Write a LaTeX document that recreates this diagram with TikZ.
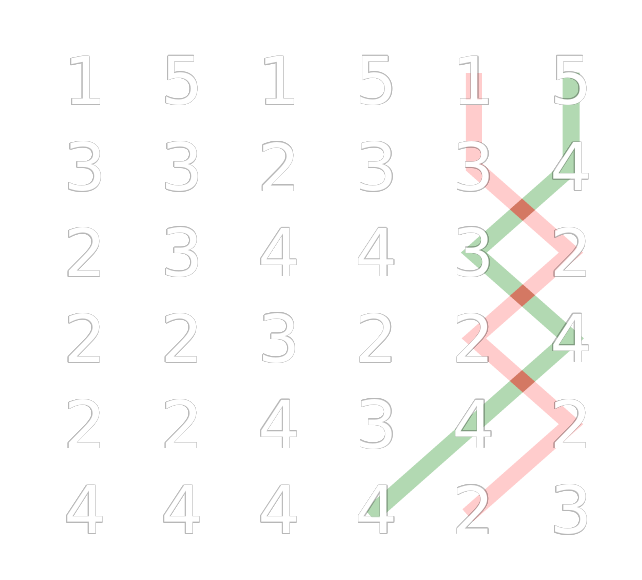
\documentclass[tikz,border=0pt]{standalone}
\usepackage{fontspec}
\setmainfont{DejaVu Sans}
\usepackage[copies]{contour}
\usetikzlibrary{calc}
\contourlength{0.45pt}
\contournumber{16}
\definecolor{bandred}{RGB}{255,0,0}
\definecolor{bandgreen}{RGB}{0,128,0}
\pgfdeclarelayer{bands}
\pgfsetlayers{bands,main}
\tikzset{
  digit/.style={inner sep=0pt, text=white, font=\fontsize{66}{66}\selectfont},
  redband/.style={draw=bandred, draw opacity=0.2, line width=16pt, line cap=rect, line join=miter},
  greenband/.style={draw=bandgreen, draw opacity=0.3, line width=17pt, line cap=rect, line join=miter},
  crossmark/.style={draw=bandred, draw opacity=0.3, line width=16pt},
}
\newcommand\bandpoly[3]{($(#1)!#3!90:(#2)$) -- ($(#2)!#3!-90:(#1)$) -- ($(#2)!#3!90:(#1)$) -- ($(#1)!#3!-90:(#2)$) -- cycle}
\begin{document}
\begin{tikzpicture}[x=1pt,y=-1pt]
\useasboundingbox (0,0) rectangle (642,579);
% opaque white glyphs
\foreach [count=\r] \row in {{1,5,1,5,1,5},{3,3,2,3,3,4},{2,3,4,4,3,2},{2,2,3,2,2,4},{2,2,4,3,4,2},{4,4,4,4,2,3}}
  \foreach [count=\c] \d in \row
    \node[digit] (d\r\c) at ({85+97.2*(\c-1)},{81+85.8*(\r-1)}) {\d};
% outlines
\begin{scope}[transparency group, opacity=0.28]
\foreach [count=\r] \row in {{1,5,1,5,1,5},{3,3,2,3,3,4},{2,3,4,4,3,2},{2,2,3,2,2,4},{2,2,4,3,4,2},{4,4,4,4,2,3}}
  \foreach [count=\c] \d in \row
    \node[digit] (o\r\c) at (d\r\c) {\contour{black}{\d}};
\end{scope}
\begin{pgfonlayer}{bands}
\draw[greenband] (d16.center) -- (d26.center) -- (d35.center) -- (d46.center) -- (d55.center) -- (d64.center);
\draw[redband] (d15.center) -- (d25.center) -- (d36.center) -- (d45.center) -- (d56.center) -- (d65.center);
\begin{scope}
  \clip \bandpoly{d26.center}{d35.center}{8.5pt};
  \draw[crossmark] (d25.center) -- (d36.center);
\end{scope}
\begin{scope}
  \clip \bandpoly{d35.center}{d46.center}{8.5pt};
  \draw[crossmark] (d36.center) -- (d45.center);
\end{scope}
\begin{scope}
  \clip \bandpoly{d46.center}{d55.center}{8.5pt};
  \draw[crossmark] (d45.center) -- (d56.center);
\end{scope}
\end{pgfonlayer}
\end{tikzpicture}
\end{document}
